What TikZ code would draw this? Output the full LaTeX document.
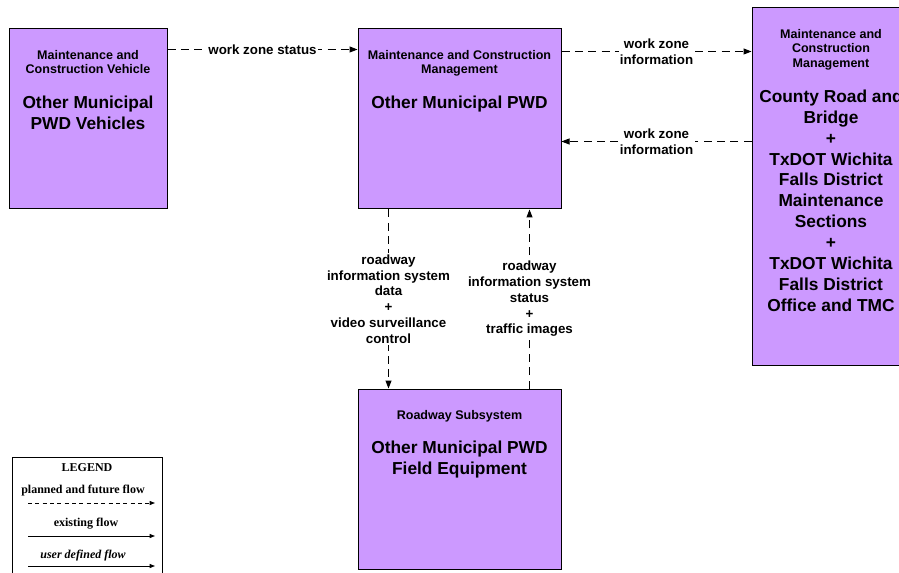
\documentclass[tikz,border=0pt]{standalone}
\usepackage{fontspec}
\setmainfont{Liberation Sans}
\newfontfamily\legendfont{Liberation Serif}
\usepackage{xcolor}
\definecolor{mcfill}{HTML}{CC99FF}
\usetikzlibrary{arrows.meta,positioning}
\tikzset{
  mcbox/.style={draw,fill=mcfill,line width=0.75pt,inner sep=0pt},
  mctitle/.style={font=\fontsize{9.4}{11.1}\selectfont\bfseries,align=center,inner sep=0pt,text depth=0pt},
  mcname/.style={font=\fontsize{13}{15.7}\selectfont\bfseries,align=center,inner sep=0pt},
  mcflow/.style={-{Triangle[length=6pt,width=4.5pt]},line width=0.75pt,dash pattern=on 6pt off 4pt},
  mclabel/.style={font=\fontsize{10}{11.8}\selectfont\bfseries,fill=white,inner sep=1pt,align=center},
  lgtext/.style={font=\legendfont\fontsize{9}{10}\selectfont\bfseries,inner sep=0pt},
  lgflow/.style={-{Triangle[length=4pt,width=3pt]},line width=0.75pt},
}
\begin{document}
\begin{tikzpicture}[x=0.75pt,y=0.75pt]
\clip (0,0) rectangle (899,-573);
 % subsystems
\node[mcbox,minimum width=118.5pt,minimum height=135pt] (veh) at (88,-119) {};
\node[mctitle,below=16pt of veh.north] (veh-t) {Maintenance and\\Construction Vehicle};
\node[mcname,below=16pt of veh-t] (veh-n) {Other Municipal\\PWD Vehicles};
\node[mcbox,minimum width=152.25pt,minimum height=135pt] (pwd) at (459.5,-119) {};
\node[mctitle,below=16pt of pwd.north] (pwd-t) {Maintenance and Construction\\Management};
\node[mcname,below=16pt of pwd-t] (pwd-n) {Other Municipal PWD};
\node[mcbox,minimum width=118.5pt,minimum height=268.5pt] (cnty) at (831,-187) {};
\node[mctitle,below=16pt of cnty.north] (cnty-t) {Maintenance and\\Construction\\Management};
\node[mcname,below=16pt of cnty-t] (cnty-n) {County Road and\\Bridge\\+\\TxDOT Wichita\\Falls District\\Maintenance\\Sections\\+\\TxDOT Wichita\\Falls District\\Office and TMC};
\node[mcbox,minimum width=152.25pt,minimum height=135pt] (fld) at (459.5,-479) {};
\node[mctitle,below=16pt of fld.north] (fld-t) {Roadway Subsystem};
\node[mcname,below=16pt of fld-t] (fld-n) {Other Municipal PWD\\Field Equipment};
 % flows
\path ([yshift=-17.25pt]pwd.north east) coordinate (pc1)
      ([yshift=-84.75pt]pwd.north east) coordinate (pc2);
\draw[mcflow] ([yshift=-15.75pt]veh.north east) -- ([yshift=-15.75pt]pwd.north west) node[midway,mclabel]{work zone status};
\draw[mcflow] (pc1) -- (pc1 -| cnty.west) node[midway,mclabel]{work zone\\information};
\draw[mcflow] (pc2 -| cnty.west) -- (pc2) node[midway,mclabel]{work zone\\information};
\draw[mcflow] ([xshift=23.25pt]pwd.south west) -- ([xshift=23.25pt]fld.north west) node[midway,mclabel]{roadway\\information system\\data\\+\\video surveillance\\control};
\draw[mcflow] ([xshift=129pt]fld.north west) -- ([xshift=129pt]pwd.south west) node[midway,mclabel]{roadway\\information system\\status\\+\\traffic images};
 % legend
\node[draw,line width=0.75pt,minimum width=112.5pt,minimum height=92.25pt] (lg) at (87,-518.5) {};
\node[lgtext] (lg-t) at (87,-468) {LEGEND};
\node[lgtext] (lg-a) at (83,-491) {planned and future flow};
\node[lgtext] (lg-b) at (86,-524) {existing flow};
\node[lgtext,font=\legendfont\fontsize{9}{10}\selectfont\bfseries\itshape] (lg-c) at (83,-556) {user defined flow};
\coordinate (la1) at (28,-503); \coordinate (la2) at (155,-503);
\coordinate (lb1) at (28,-536); \coordinate (lb2) at (155,-536);
\coordinate (lc1) at (28,-566); \coordinate (lc2) at (155,-566);
\draw[lgflow,dash pattern=on 3pt off 2.5pt] (la1) -- (la2);
\draw[lgflow] (lb1) -- (lb2);
\draw[lgflow] (lc1) -- (lc2);
\end{tikzpicture}
\end{document}
